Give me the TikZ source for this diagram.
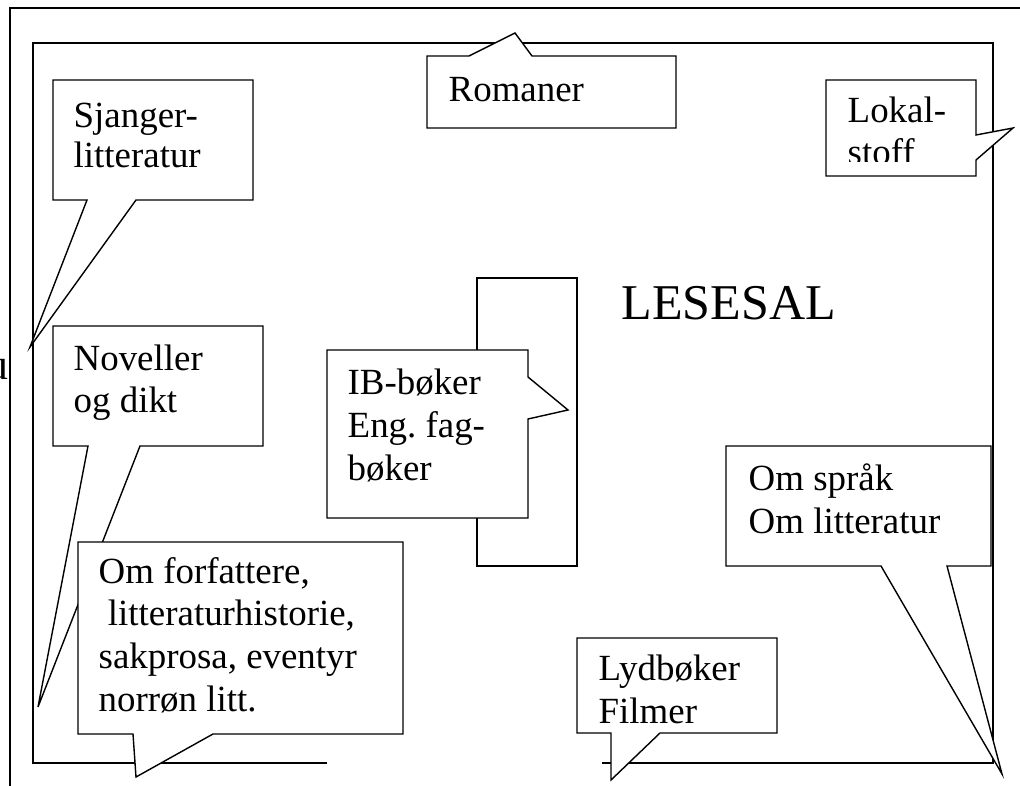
\documentclass[tikz,border=0pt]{standalone}
\usepackage{fontspec}
\setmainfont{Liberation Serif}
\tikzset{every picture/.style={line width=0.8pt},
         wall/.style={draw=black},
         bubble/.style={draw=black, fill=white, line join=miter},
         boxtext/.style={anchor=base west, inner sep=0pt, align=left,
                         font=\fontsize{21}{24.2}\selectfont}
        }
\begin{document}
\begin{tikzpicture}[x=0.02cm, y=-0.02cm]
\useasboundingbox (0,0) rectangle (1020,786);

%Walls
\node[anchor=base east, inner sep=0pt, font=\fontsize{25}{30}\selectfont] (cut) at (9,380) {u};
\draw[wall] (10,786) -- (10,8) -- (1020,8);
\draw[wall] (327,763) -- (33,763) -- (33,43) -- (993,43) -- (993,763) -- (602,763);
\draw[wall] (477,278) rectangle (577,566);
\node[anchor=base west, inner sep=0pt, font=\fontsize{28.5}{34}\selectfont] (lesesal) at (621,320) {LESESAL};

%Sjanger (base anchor = last line)
\draw[bubble] (53,80) -- (253,80) -- (253,200) -- (136,200) -- (30,347) -- (87,200) -- (53,200) -- cycle;
\node[boxtext, font=\fontsize{21}{22.8}\selectfont] (sjanger) at (73,168) {Sjanger-\\litteratur};

%Romaner
\draw[bubble] (427,56) -- (469,56) -- (515,33) -- (532,56) -- (676,56) -- (676,128) -- (427,128) -- cycle;
\node[boxtext] (romaner) at (448,102) {Romaner};

%Lokal
\draw[bubble] (826,80) -- (976,80) -- (976,135) -- (1013,128) -- (976,160) -- (976,176) -- (826,176) -- cycle;
\begin{scope}
\clip (826,80) rectangle (976,162);
\node[boxtext] (lokal) at (847,165) {Lokal-\\stoff};
\end{scope}

%Noveller
\draw[bubble] (53,326) -- (263,326) -- (263,446) -- (140,446) -- (38,707) -- (88,446) -- (53,446) -- cycle;
\node[boxtext] (noveller) at (73,413) {Noveller\\og dikt};

%IB
\draw[bubble] (327,350) -- (528,350) -- (528,377) -- (568,410) -- (528,419) -- (528,518) -- (327,518) -- cycle;
\node[boxtext] (ib) at (347,480) {IB-bøker\\Eng.\ fag-\\bøker};

%Forfattere
\draw[bubble] (78,542) -- (403,542) -- (403,734) -- (213,734) -- (136,777) -- (133,734) -- (78,734) -- cycle;
\node[boxtext] (forfattere) at (98,711) {Om forfattere,\\\ litteraturhistorie,\\sakprosa, eventyr\\norrøn litt.};

%Sprak
\draw[bubble] (726,446) -- (991,446) -- (991,566) -- (947,566) -- (1002,774) -- (881,566) -- (726,566) -- cycle;
\node[boxtext] (sprak) at (748,533) {Om språk\\Om litteratur};

%Lyd
\draw[bubble] (577,638) -- (777,638) -- (777,733) -- (660,733) -- (611,780) -- (611,733) -- (577,733) -- cycle;
\node[boxtext] (lyd) at (598,723) {Lydbøker\\Filmer};
\end{tikzpicture}
\end{document}
